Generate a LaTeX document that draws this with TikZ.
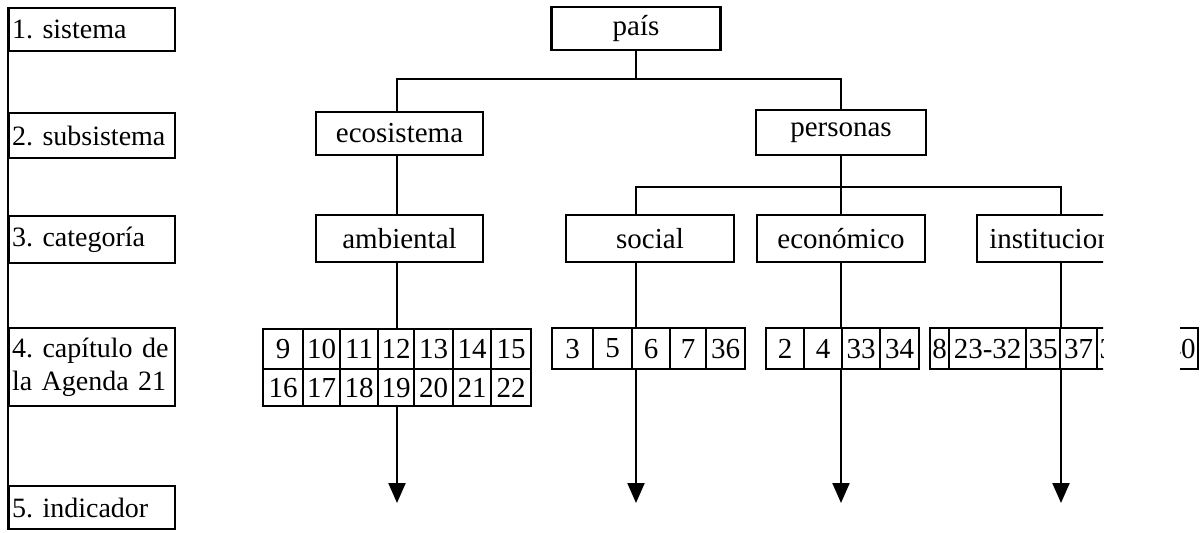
\documentclass[tikz,border=0pt]{standalone}
\usepackage{fontspec}
\setmainfont{Liberation Serif}
\usetikzlibrary{arrows.meta, positioning}
\newcommand{\diagfont}{\fontsize{29}{33}\selectfont}
\newcommand{\levelfont}{\fontsize{28}{33}\selectfont}
\frenchspacing

\tikzset{
  levelbox/.style={draw, line width=2.4pt, anchor=north west, text width=160pt, inner xsep=3pt, inner ysep=0pt, align=left, minimum height=43pt, font=\levelfont},
  treebox/.style={draw, line width=2.4pt, inner sep=0pt, minimum height=43pt, font=\diagfont},
  cell/.style={draw, fill=white, line width=2.2pt, anchor=north west, inner sep=0pt, minimum height=40pt, font=\diagfont},
  link/.style={line width=2.2pt},
  down/.style={link, -{Triangle[width=17pt, length=20pt]}}
}

\begin{document}
\begin{tikzpicture}[x=1pt, y=-1pt]
  \useasboundingbox (0,0) rectangle (1200,533);

  % Levels on the left
  \node[levelbox] (lvl1) at (8,7) {\mbox{1. sistema}};
  \node[levelbox, minimum height=45pt] (lvl2) at (8,112) {\mbox{2. subsistema}};
  \node[levelbox, minimum height=47pt] (lvl3) at (8,215) {\mbox{3. categoría}};
  \node[levelbox, minimum height=78pt] (lvl4) at (8,327) {\mbox{4. capítulo de}\\\mbox{la Agenda 21}};
  \node[levelbox] (lvl5) at (8,485) {\mbox{5. indicador}};
  \draw[link] (lvl1.north west) -- (lvl5.south west);

  % Tree
  \node[treebox, minimum width=169pt] (pais) at (636,28.5) {país};
  \node[treebox, minimum width=167pt] (eco) at (399.5,133.5) {ecosistema};
  \node[treebox, minimum width=170pt, minimum height=45pt] (pers) at (841,132.5) {personas};
  \node[treebox, minimum width=167pt, minimum height=47pt] (amb) at (399.5,238.5) {ambiental};
  \node[treebox, minimum width=168pt, minimum height=47pt] (soc) at (650,238.5) {social\hspace{26pt}};
  \node[treebox, minimum width=168pt, minimum height=47pt] (econ) at (841,238.5) {económico};

  \coordinate (jA) at (636,79);
  \coordinate (jB) at (841,187);
  \coordinate (endA) at (397,503);
  \coordinate (endS) at (636,503);
  \coordinate (endE) at (841,503);
  \coordinate (endI) at (1061,503);

  % Chapters: ambiental
  \node[cell, minimum width=40pt] (a9) at (262,328) {9};
  \node[cell, minimum width=37pt] (a10) at (302,328) {10};
  \node[cell, minimum width=38pt] (a11) at (339,328) {11};
  \node[cell, minimum width=36pt] (a12) at (377,328) {12};
  \node[cell, minimum width=39pt] (a13) at (413,328) {13};
  \node[cell, minimum width=38pt] (a14) at (452,328) {14};
  \node[cell, minimum width=40pt] (a15) at (490,328) {15};
  \node[cell, minimum width=40pt, minimum height=37pt] (a16) at (262,368) {16};
  \node[cell, minimum width=37pt, minimum height=37pt] (a17) at (302,368) {17};
  \node[cell, minimum width=38pt, minimum height=37pt] (a18) at (339,368) {18};
  \node[cell, minimum width=36pt, minimum height=37pt] (a19) at (377,368) {19};
  \node[cell, minimum width=39pt, minimum height=37pt] (a20) at (413,368) {20};
  \node[cell, minimum width=38pt, minimum height=37pt] (a21) at (452,368) {21};
  \node[cell, minimum width=40pt, minimum height=37pt] (a22) at (490,368) {22};

  % Chapters: social
  \node[cell, minimum width=41pt, minimum height=41pt] (s3) at (551,327) {3};
  \node[cell, minimum width=39pt, minimum height=41pt] (s5) at (592,327) {5};
  \node[cell, minimum width=38pt, minimum height=41pt] (s6) at (631,327) {6};
  \node[cell, minimum width=36pt, minimum height=41pt] (s7) at (669,327) {7};
  \node[cell, minimum width=39pt, minimum height=41pt] (s36) at (705,327) {36};

  % Chapters: economico
  \node[cell, minimum width=38pt, minimum height=41pt] (e2) at (765,327) {2};
  \node[cell, minimum width=38pt, minimum height=41pt] (e4) at (803,327) {4};
  \node[cell, minimum width=38pt, minimum height=41pt] (e33) at (841,327) {33};
  \node[cell, minimum width=39pt, minimum height=41pt] (e34) at (879,327) {34};

  % Institucional, cut off at the right edge
  \begin{scope}
    \clip (0,0) rectangle (1103,533) (1180,300) rectangle (1200,420);
    \node[treebox, minimum width=168pt, minimum height=47pt] (inst) at (1061,238.5) {institucional};
    \node[cell, minimum width=19pt, minimum height=41pt] (i8) at (929,327) {8};
    \node[cell, minimum width=77pt, minimum height=41pt] (i23) at (948,327) {23-32};
    \node[cell, minimum width=34pt, minimum height=41pt] (i35) at (1025,327) {35};
    \node[cell, minimum width=37pt, minimum height=41pt] (i37) at (1059,327) {37};
    \node[cell, minimum width=34pt, minimum height=41pt] (i38) at (1096,327) {38};
    \node[cell, minimum width=33pt, minimum height=41pt] (i39) at (1130,327) {39};
    \node[cell, minimum width=34pt, minimum height=41pt] (i40) at (1163,327) {40};
  \end{scope}

  % Connectors
  \draw[link] (pais.south) -- (jA);
  \draw[link] (eco.north -| endA) |- (jA) -| (pers.north);
  \draw[link] (eco.south -| endA) -- (amb.north -| endA);
  \draw[link] (pers.south) -- (jB);
  \draw[link] (soc.north -| endS) |- (jB) -| (inst.north);
  \draw[link] (jB) -- (econ.north);

  % Down to the indicators
  \draw[link] (amb.south -| endA) -- (a12.north -| endA);
  \draw[down] (a19.south -| endA) -- (endA);
  \draw[link] (soc.south -| endS) -- (s6.north -| endS);
  \draw[down] (s6.south -| endS) -- (endS);
  \draw[link] (econ.south) -- (e33.north west);
  \draw[down] (e33.south west) -- (endE);
  \draw[link] (inst.south) -- (inst.south |- i37.north);
  \draw[down] (inst.south |- i37.south) -- (endI);
\end{tikzpicture}
\end{document}
